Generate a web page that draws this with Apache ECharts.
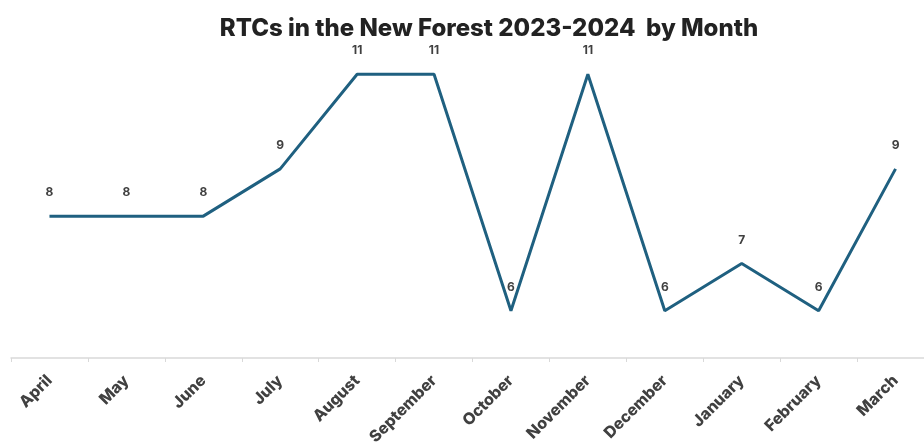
<!DOCTYPE html>
<html><head><meta charset="utf-8">
<script src="https://cdn.jsdelivr.net/npm/echarts@6/dist/echarts.min.js"></script>
<style>html,body{margin:0;padding:0;background:#fff}#c{width:924px;height:443px}</style>
</head><body><div id="c"></div>
<script>
const months = ['April','May','June','July','August','September','October','November','December','January','February','March'];
const rtcs = [8,8,8,9,11,11,6,11,6,7,6,9];
const titleText = 'RTCs in the New Forest 2023-2024  by Month';

const chart = echarts.init(document.getElementById('c'));
chart.setOption({
  animation: false,
  backgroundColor: '#fff',
  title: {
    text: titleText, left: 484, top: 12, textAlign: 'center',
    textStyle: { fontFamily: 'Inter', fontWeight: 800, fontSize: 24, color: '#222' }
  },
  grid: { left: 11, width: 923, top: 27, bottom: 85, containLabel: false, outerBoundsMode: 'none' },
  xAxis: {
    type: 'category', data: months, boundaryGap: true,
    axisLine: { lineStyle: { color: '#d9d9d9', width: 1.5 } },
    axisTick: { show: true, length: 4, lineStyle: { color: '#d9d9d9' } },
    axisLabel: { rotate: 45, interval: 0, fontFamily: 'Inter', fontWeight: 800, fontSize: 16, color: '#404040', margin: 20 }
  },
  yAxis: { type: 'value', min: 5, max: 12, show: false, splitLine: { show: false } },
  series: [{
    type: 'line', data: rtcs, symbol: 'circle', symbolSize: 1, showSymbol: true,
    itemStyle: { color: 'rgba(0,0,0,0)' },
    lineStyle: { color: '#1f6080', width: 3 },
    label: { show: true, position: 'top', distance: 17, fontFamily: 'Inter', fontWeight: 'bold', fontSize: 12, color: '#404040' }
  }]
});
</script></body></html>
